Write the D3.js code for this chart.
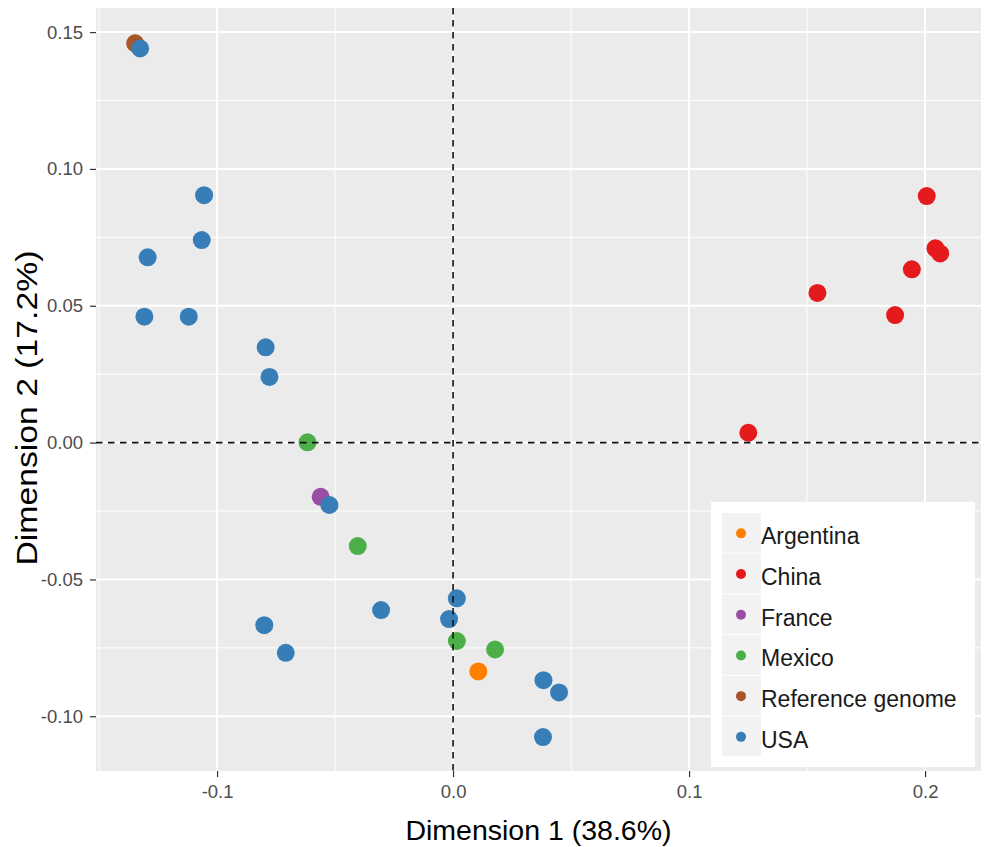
<!DOCTYPE html>
<html>
<head>
<meta charset="utf-8">
<script src="https://cdn.jsdelivr.net/npm/d3@7"></script>
<style>
  html, body { margin: 0; padding: 0; background: #fff; }
  svg { display: block; }
  text { font-family: "Liberation Sans", Arial, sans-serif; }
</style>
</head>
<body>
<svg id="chart" width="986" height="847"></svg>
<script>
// ---- data ----
const categories = ["Argentina", "China", "France", "Mexico", "Reference genome", "USA"];
const categoryColors = ["#FF7F00", "#E41A1C", "#984EA3", "#4DAF4A", "#A65628", "#377EB8"];

// points, in drawing order
const pointGroup = [
  "Reference genome",
  "China", "China", "China", "China", "China", "China", "China",
  "France",
  "USA", "USA", "USA", "USA", "USA", "USA", "USA", "USA", "USA",
  "USA", "USA", "USA", "USA", "USA", "USA", "USA", "USA",
  "Mexico", "Mexico", "Mexico", "Mexico",
  "Argentina"
];
const dim1 = [
  -0.1347,
  0.2007, 0.2044, 0.2064, 0.1944, 0.1544, 0.1873, 0.1251,
  -0.0561,
  -0.1326, -0.1055, -0.1065, -0.1294, -0.1308, -0.1120, -0.0794, -0.0778, -0.0524,
  -0.0305, -0.0800, -0.0709, 0.0016, -0.0017, 0.0383, 0.0449, 0.0381,
  -0.0617, -0.0404, 0.0016, 0.0178,
  0.0107
];
const dim2 = [
  0.1459,
  0.0901, 0.0710, 0.0691, 0.0633, 0.0547, 0.0466, 0.0036,
  -0.0198,
  0.1440, 0.0904, 0.0740, 0.0677, 0.0460, 0.0460, 0.0348, 0.0240, -0.0228,
  -0.0612, -0.0667, -0.0768, -0.0569, -0.0645, -0.0868, -0.0913, -0.1076,
  0.0001, -0.0378, -0.0725, -0.0756,
  -0.0836
];
const xTicks = [-0.1, 0.0, 0.1, 0.2];
const xTickLabels = ["-0.1", "0.0", "0.1", "0.2"];
const yTicks = [-0.10, -0.05, 0.00, 0.05, 0.10, 0.15];
const yTickLabels = ["-0.10", "-0.05", "0.00", "0.05", "0.10", "0.15"];
const xMinor = [-0.15, -0.05, 0.05, 0.15];
const yMinor = [-0.075, -0.025, 0.025, 0.075, 0.125];
const xTitle = "Dimension 1 (38.6%)";
const yTitle = "Dimension 2 (17.2%)";

// ---- layout ----
const panel = { left: 96, top: 8, right: 981, bottom: 771 };
const svg = d3.select("#chart");

const x = d3.scaleLinear().domain([-0.1513, 0.2237]).range([panel.left, panel.right]);
const y = d3.scaleLinear().domain([-0.1200, 0.1588]).range([panel.bottom, panel.top]);
const color = d3.scaleOrdinal().domain(categories).range(categoryColors);

// panel background
svg.append("rect")
  .attr("x", panel.left).attr("y", panel.top)
  .attr("width", panel.right - panel.left).attr("height", panel.bottom - panel.top)
  .attr("fill", "#EBEBEB");

const grid = svg.append("g");
// minor gridlines
grid.selectAll("line.xmin").data(xMinor).enter().append("line")
  .attr("x1", d => x(d)).attr("x2", d => x(d))
  .attr("y1", panel.top).attr("y2", panel.bottom)
  .attr("stroke", "#fff").attr("stroke-width", 1);
grid.selectAll("line.ymin").data(yMinor).enter().append("line")
  .attr("y1", d => y(d)).attr("y2", d => y(d))
  .attr("x1", panel.left).attr("x2", panel.right)
  .attr("stroke", "#fff").attr("stroke-width", 1);
// major gridlines
grid.selectAll("line.xmaj").data(xTicks).enter().append("line")
  .attr("x1", d => x(d)).attr("x2", d => x(d))
  .attr("y1", panel.top).attr("y2", panel.bottom)
  .attr("stroke", "#fff").attr("stroke-width", 2);
grid.selectAll("line.ymaj").data(yTicks).enter().append("line")
  .attr("y1", d => y(d)).attr("y2", d => y(d))
  .attr("x1", panel.left).attr("x2", panel.right)
  .attr("stroke", "#fff").attr("stroke-width", 2);

// points
const pts = dim1.map((d, i) => ({ x: d, y: dim2[i], g: pointGroup[i] }));
svg.append("g").selectAll("circle").data(pts).enter().append("circle")
  .attr("cx", d => x(d.x)).attr("cy", d => y(d.y)).attr("r", 9)
  .attr("fill", d => color(d.g));

// reference lines (dashed), on top of points
svg.append("line")
  .attr("x1", x(0)).attr("x2", x(0)).attr("y1", panel.top).attr("y2", panel.bottom)
  .attr("stroke", "#111").attr("stroke-width", 1.6).attr("stroke-dasharray", "6.5,5.5");
svg.append("line")
  .attr("y1", y(0)).attr("y2", y(0)).attr("x1", panel.left).attr("x2", panel.right)
  .attr("stroke", "#111").attr("stroke-width", 1.6).attr("stroke-dasharray", "6.5,5.5");

// axes
const xAxis = d3.axisBottom(x).tickValues(xTicks).tickFormat((d, i) => xTickLabels[i])
  .tickSize(6).tickPadding(8);
const gx = svg.append("g").attr("transform", `translate(0,${panel.bottom})`).call(xAxis);
gx.select(".domain").remove();
gx.selectAll(".tick line").attr("stroke", "#333").attr("stroke-width", 1.2);
gx.selectAll(".tick text").attr("fill", "#4D4D4D").style("font-size", "18.5px")
  .style("font-family", "'Liberation Sans', Arial, sans-serif");

const yAxis = d3.axisLeft(y).tickValues(yTicks).tickFormat((d, i) => yTickLabels[i])
  .tickSize(6).tickPadding(7);
const gy = svg.append("g").attr("transform", `translate(${panel.left},0)`).call(yAxis);
gy.select(".domain").remove();
gy.selectAll(".tick line").attr("stroke", "#333").attr("stroke-width", 1.2);
gy.selectAll(".tick text").attr("fill", "#4D4D4D").style("font-size", "18.5px")
  .style("font-family", "'Liberation Sans', Arial, sans-serif");

// axis titles
svg.append("text")
  .attr("x", (panel.left + panel.right) / 2).attr("y", 840)
  .attr("text-anchor", "middle").attr("fill", "#000")
  .style("font-size", "28.5px").text(xTitle);
svg.append("text")
  .attr("transform", `translate(37,408) rotate(-90)`)
  .attr("text-anchor", "middle").attr("fill", "#000")
  .attr("textLength", 315).attr("lengthAdjust", "spacingAndGlyphs")
  .style("font-size", "29px").text(yTitle);

// legend
const lg = svg.append("g");
lg.append("rect").attr("x", 711).attr("y", 502).attr("width", 264).attr("height", 265).attr("fill", "#fff");
const rowH = 40.7, keyX = 722, keyW = 39, keyTop = 513;
const rows = lg.selectAll("g.row").data(categories).enter().append("g")
  .attr("transform", (d, i) => `translate(0,${keyTop + i * rowH})`);
rows.append("rect").attr("x", keyX).attr("y", 0).attr("width", keyW).attr("height", rowH - 1)
  .attr("fill", "#F2F2F2");
rows.append("circle").attr("cx", keyX + 19).attr("cy", rowH / 2).attr("r", 5)
  .attr("fill", d => color(d));
rows.append("text").attr("x", 761).attr("y", rowH / 2 + 3 + 8)
  .attr("fill", "#1A1A1A").style("font-size", "23px").text(d => d);
</script>
</body>
</html>
